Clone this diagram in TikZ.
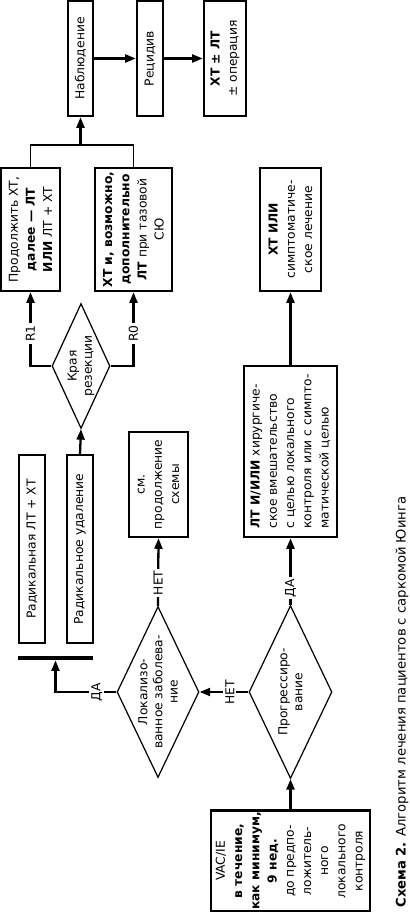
\documentclass[tikz,border=0pt]{standalone}
\usepackage{fontspec}
\setmainfont{DejaVu Sans}
\usepackage{tikz}
\usetikzlibrary{arrows.meta,shapes.geometric}

\tikzset{
  txt/.style={font=\fontsize{7}{9.8}\selectfont},
  box/.style={draw, line width=1.4pt, rotate=90, inner sep=1pt, align=center, txt},
  dec/.style={diamond, draw, line width=0.7pt, rotate=90, inner sep=0pt},
  dectxt/.style={rotate=90, align=center, inner sep=0pt, font=\fontsize{7}{8.6}\selectfont},
  lab/.style={fill=white, rotate=90, inner sep=1.2pt, txt},
  flow/.style={line width=1.3pt, ->},
}

\begin{document}
\begin{tikzpicture}[x=0.02cm, y=-0.02cm, >={Triangle[length=6pt,width=4.5pt]}]
\useasboundingbox (0,0) rectangle (409,912);
% top row: follow-up, relapse, second-line treatment
\node[box, minimum width=2.30cm, minimum height=0.50cm] (obs) at (80.5,58.5) {Наблюдение};
\node[box, minimum width=2.30cm, minimum height=0.52cm] (rel) at (150,58.5) {Рецидив};
\node[box, minimum width=2.30cm, minimum height=0.84cm] (ctl) at (225,58.5) {\textbf{ХТ ± ЛТ}\\± операция};
% treatment after resection, palliative branch
\node[box, minimum width=2.46cm, minimum height=1.18cm] (cont) at (30.5,229.5)
  {Продолжить ХТ,\\\textbf{далее — ЛТ}\\\textbf{ИЛИ} ЛТ + ХТ};
\node[box, minimum width=2.46cm, minimum height=1.54cm] (add) at (133.5,229.5)
  {\textbf{ХТ и, возможно,}\\\textbf{дополнительно}\\\textbf{ЛТ} при тазовой\\СЮ};
\node[box, minimum width=2.46cm, minimum height=1.22cm] (sym) at (290.5,229.5)
  {\textbf{ХТ ИЛИ}\\симптоматиче-\\ское лечение};
% resection margins
\node[dec, minimum width=2.50cm, minimum height=1.16cm] (edge) at (81,366) {};
\node[dectxt] (edgetxt) at (edge) {Края\\резекции};
% middle row
\node[box, minimum width=2.10cm, minimum height=1.18cm] (see) at (158.5,484.5)
  {см.\\продолжение\\схемы};
\node[box, minimum width=3.42cm, minimum height=1.86cm, align=left] (loc) at (290.5,451.5)
  {\textbf{ЛТ И/ИЛИ} хирургиче-\\ское вмешательство\\с целью локального\\контроля или с симпто-\\матической целью};
\node[box, minimum width=3.76cm, minimum height=0.52cm] (rlt) at (32,549) {Радикальная ЛТ + ХТ};
\node[box, minimum width=3.76cm, minimum height=0.52cm] (rsu) at (80,549) {Радикальное удаление};
\node[fill, inner sep=0pt, minimum width=1.50cm, minimum height=0.08cm] (bar) at (55.5,658) {};
% decisions
\node[dec, minimum width=3.42cm, minimum height=1.64cm] (local) at (158,692) {};
\node[dectxt] (localtxt) at (local) {Локализо-\\ванное заболева-\\ние};
\node[dec, minimum width=3.46cm, minimum height=1.66cm] (prog) at (290.5,692) {};
\node[dectxt] (progtxt) at (prog) {Прогрессиро-\\вание};
% induction chemotherapy
\node[box, minimum width=2.00cm, minimum height=3.18cm] (vac) at (290.5,861)
  {VAC/IE\\\textbf{в течение,}\\\textbf{как минимум,}\\\textbf{9 нед.}\\до предпо-\\ложитель-\\ного\\локального\\контроля};
% caption
\node[rotate=90, anchor=west, inner sep=0pt, font=\fontsize{7.5}{9}\selectfont] (cap) at (402,908)
  {\textbf{Схема 2.} Алгоритм лечения пациентов с саркомой Юинга};
% connectors
\draw[flow] (vac.east) -- (prog.west);
\draw[flow] (prog.north) -- node[lab, pos=0.38] (no1) {НЕТ} (local.south);
\draw[flow] (prog.east) -- node[lab, pos=0.25] (yes1) {ДА} (loc.west);
\draw[flow] (loc.east) -- (sym.west);
\draw[flow] (local.east) -- node[lab, pos=0.34] (no2) {НЕТ} (see.west);
\draw[flow] (local.north) -| node[lab, pos=0.16] (yes2) {ДА} (bar.south);
\draw[flow] (rsu.east) -- (edge.west);
\draw[flow] (edge.north) -| node[lab, pos=0.72] (r1) {R1} (cont.west);
\draw[flow] (edge.south) -| node[lab, pos=0.72] (r0) {R0} (add.west);
\coordinate (fork) at (80.5,145);
\draw[line width=1.1pt] (cont.east) |- (fork) -| (add.east);
\draw[flow] (fork) -- (obs.west);
\draw[flow] (obs.south) -- (rel.north);
\draw[flow] (rel.south) -- (ctl.north);
\end{tikzpicture}
\end{document}
